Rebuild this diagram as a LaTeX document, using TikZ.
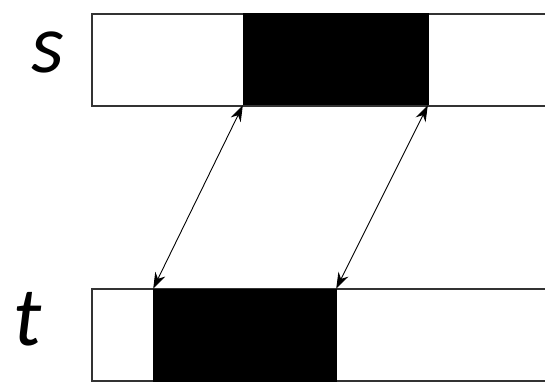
\documentclass[tikz,border=0pt]{standalone}
\usepackage{fontspec}
\setmainfont{Carlito}
\usetikzlibrary{arrows.meta}
\begin{document}
\begin{tikzpicture}[x=1pt,y=-1pt,
 bar/.style={draw=black!80,line width=2pt,fill=white,inner sep=0pt,outer sep=0pt,anchor=north west,minimum height=92pt},
 blk/.style={fill=black,draw=black,line width=1pt,inner sep=0pt,outer sep=0pt,anchor=north west},
 link/.style={{Stealth[length=16pt,width=11pt]}-{Stealth[length=16pt,width=11pt]},line width=0.9pt,shorten <=0.5pt,shorten >=0.5pt},
 lbl/.style={font=\fontsize{84}{90}\selectfont\itshape,inner sep=0pt,anchor=base}]
\useasboundingbox (0,0) rectangle (545,382);
\node[bar,minimum width=470pt] (sbar) at (92,14) {};
\node[blk,minimum width=185pt,minimum height=91pt] (sblk) at (243,14) {};
\node[bar,minimum width=470pt] (tbar) at (92,289) {};
\node[blk,minimum width=183pt,minimum height=92pt] (tblk) at (153,289) {};
\node[lbl] (slbl) at (48,73) {s};
\node[lbl] (tlbl) at (28,345) {t};
\draw[link] (sblk.south west) -- (tblk.north west);
\draw[link] (sblk.south east) -- (tblk.north east);
\end{tikzpicture}
\end{document}
